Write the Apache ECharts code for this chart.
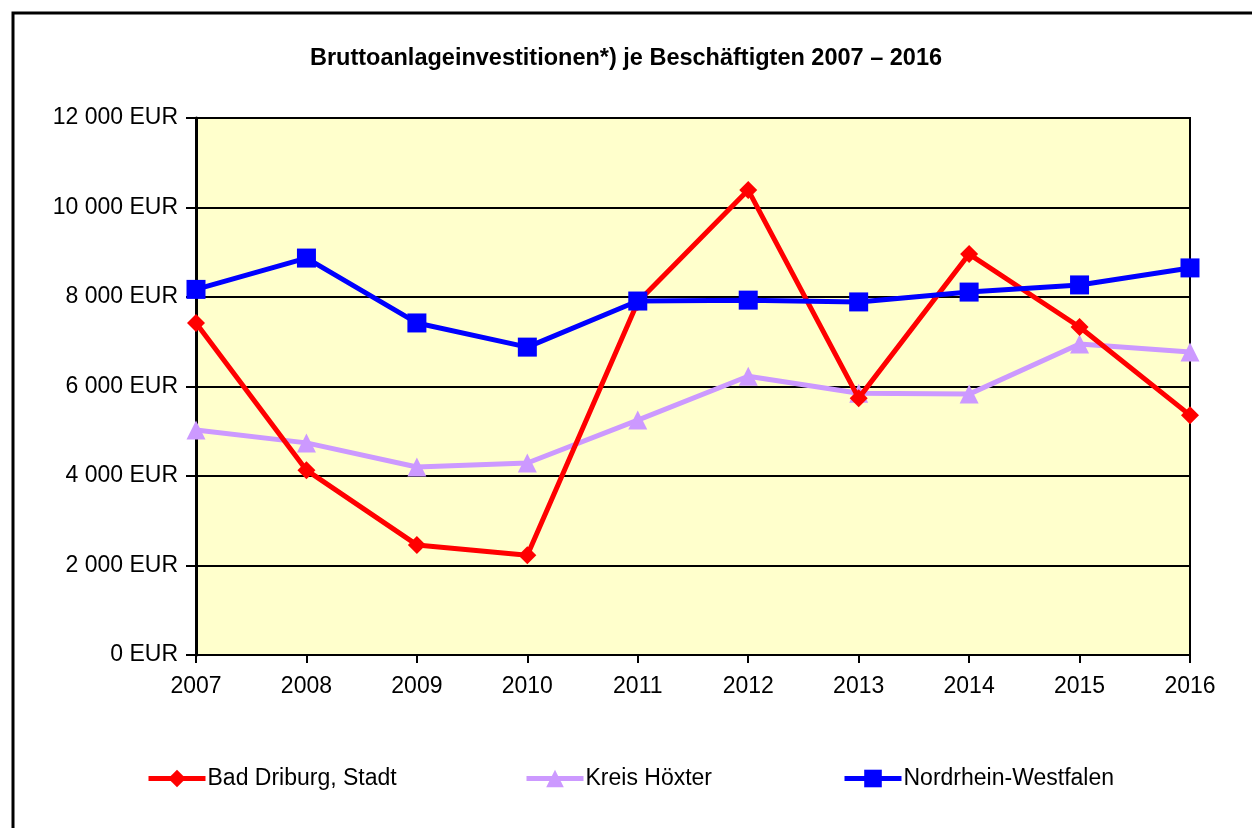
<!DOCTYPE html>
<html><head><meta charset="utf-8">
<script src="https://cdn.jsdelivr.net/npm/echarts@6/dist/echarts.min.js"></script>
<style>html,body{margin:0;padding:0;background:#fff}#c{width:1252px;height:828px}</style>
</head><body><div id="c"></div>
<script>
const years = ['2007','2008','2009','2010','2011','2012','2013','2014','2015','2016'];
const badDriburg = [7420, 4130, 2460, 2230, 7890, 10390, 5740, 8960, 7330, 5360];
const kreisHoexter = [5030, 4740, 4200, 4290, 5250, 6230, 5850, 5830, 6950, 6770];
const nrw = [8170, 8870, 7420, 6880, 7910, 7930, 7890, 8110, 8270, 8650];
const seriesNames = ['Bad Driburg, Stadt', 'Kreis Höxter', 'Nordrhein-Westfalen'];
const titleText = 'Bruttoanlageinvestitionen*) je Beschäftigten 2007 – 2016';

const font = '"Liberation Sans", Arial, sans-serif';
const chart = echarts.init(document.getElementById('c'), null, {renderer: 'canvas'});
function fmt(v){ return String(v).replace(/\B(?=(\d{3})+(?!\d))/g, ' ') + ' EUR'; }
function legend(name, left){
  return {data:[name], left:left, top:762, itemWidth:57, itemHeight:22, itemGap:0,
    lineStyle:{width:5},
    textStyle:{fontFamily:font, fontSize:23, color:'#000', padding:[0,0,0,-3]}};
}
chart.setOption({
  animation:false,
  title:{text:titleText, left:'center', top:42, textStyle:{fontFamily:font, fontSize:23.5, fontWeight:'bold', color:'#000'}},
  graphic:[{type:'rect', shape:{x:13, y:13, width:1250, height:830}, style:{fill:'none', stroke:'#000', lineWidth:3}, silent:true}],
  grid:{left:196, right:62, top:118, bottom:173, show:true, backgroundColor:'#FFFFCC', borderColor:'#000', borderWidth:2},
  legend:[legend(seriesNames[0],141), legend(seriesNames[1],519), legend(seriesNames[2],837)],
  xAxis:{type:'category', data:years, boundaryGap:false,
    axisLine:{lineStyle:{color:'#000', width:2}},
    axisTick:{show:true, length:8, lineStyle:{color:'#000', width:2}},
    axisLabel:{fontFamily:font, fontSize:23, color:'#000', margin:20},
    splitLine:{show:false}},
  yAxis:{type:'value', min:0, max:12000, interval:2000,
    axisLine:{show:true, lineStyle:{color:'#000', width:3}},
    axisTick:{show:true, length:10, lineStyle:{color:'#000', width:2}},
    axisLabel:{fontFamily:font, fontSize:23, color:'#000', margin:18, formatter:fmt},
    splitLine:{show:true, lineStyle:{color:'#000', width:2}}},
  series:[
    {name:seriesNames[0], type:'line', data:badDriburg, symbol:'diamond', symbolSize:18,
      lineStyle:{color:'#FF0000', width:5}, itemStyle:{color:'#FF0000'}, z:3},
    {name:seriesNames[1], type:'line', data:kreisHoexter, symbol:'triangle', symbolSize:19,
      lineStyle:{color:'#CC99FF', width:5}, itemStyle:{color:'#CC99FF'}, z:2},
    {name:seriesNames[2], type:'line', data:nrw, symbol:'rect', symbolSize:19,
      lineStyle:{color:'#0000FF', width:5}, itemStyle:{color:'#0000FF'}, z:4}
  ]
});
</script></body></html>
